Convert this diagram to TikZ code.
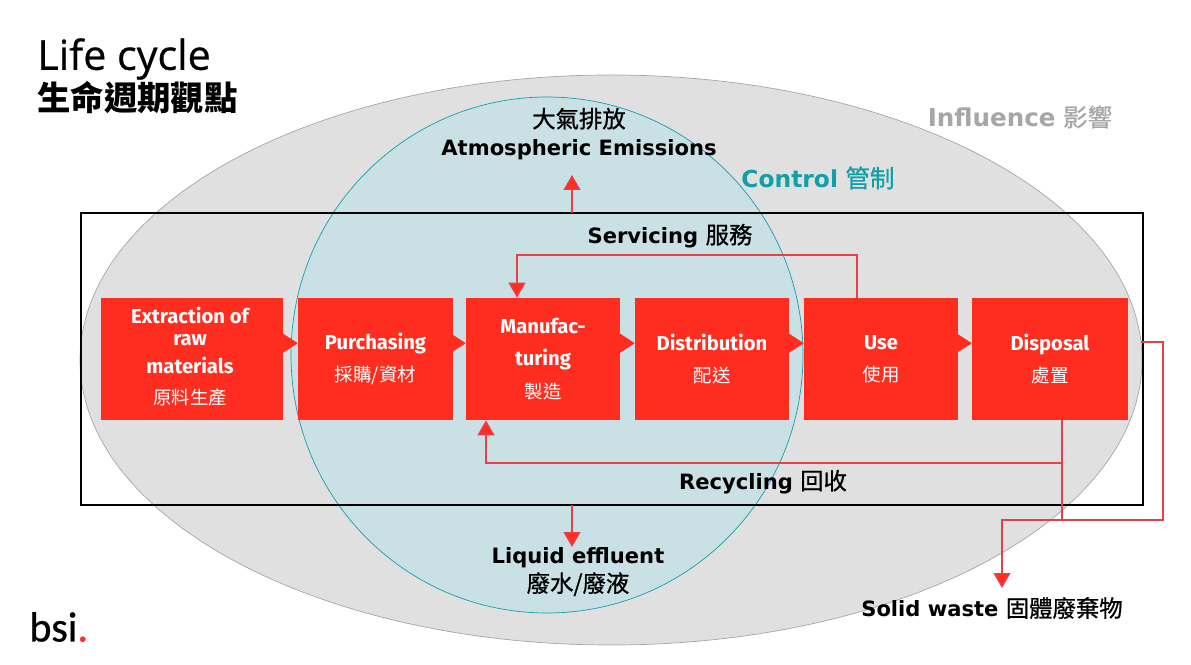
\documentclass[tikz,border=0pt]{standalone}
\usepackage{fontspec}
\setmainfont{DejaVu Sans}
\newfontfamily\boxfont{Fira Sans}
\newfontfamily\titlefont[FakeBold=0.6]{Open Sans}
\newfontfamily\logofont[FakeBold=0.8]{Carlito}
\newfontfamily\cjkfont{Noto Sans CJK TC}
\newfontfamily\cjkmedium[FakeBold=0.8]{Noto Sans CJK TC}
\usetikzlibrary{arrows.meta}
\definecolor{boxred}{HTML}{FF2D20}
\definecolor{linered}{HTML}{E8404A}
\definecolor{influencegray}{HTML}{E0E0E0}
\definecolor{controlblue}{HTML}{C9E0E4}
\definecolor{controlteal}{HTML}{12A0A8}
\newcommand{\boxcjk}[1]{{\cjkfont\mdseries\fontsize{10.5}{12}\selectfont #1}}
\newcommand{\labelcjk}[1]{{\cjkmedium\mdseries\fontsize{13.3}{18}\selectfont #1}}
\tikzset{
    boxtext/.style={inner sep=0pt, align=center, text=white, font=\boxfont\bfseries\fontsize{11.5}{14}\selectfont},
    redbox/.style={boxtext, fill=boxred, minimum height=2.44cm},
    redline/.style={draw=linered, line width=0.8pt},
    redarrow/.style={redline, -{Triangle[length=8.5pt,width=9.6pt,fill=boxred]}},
    chevron/.style={draw=boxred, line width=0.2pt, -{Triangle[length=8.5pt,width=11pt,fill=boxred]}},
    label/.style={font=\bfseries\fontsize{12}{16}\selectfont, align=center, inner sep=0pt}
}
\begin{document}
\begin{tikzpicture}[x=0.02cm, y=-0.02cm]
        \useasboundingbox (0,0) rectangle (1191,665);
        % the two zones
        \draw[fill=influencegray, draw=gray!70] (611,360) ellipse [x radius=531, y radius=285];
        \draw[fill=controlblue, draw=controlteal] (547,355) ellipse [x radius=256, y radius=258];
        \draw[black, line width=0.8pt] (81,213) rectangle (1143,505);
        % title and logo
        \node[anchor=west, inner sep=0pt, font=\titlefont\fontsize{23.5}{28}\selectfont] (title) at (37,59) {Life cycle};
        \node[anchor=west, inner sep=0pt, font=\cjkfont\bfseries\fontsize{19}{24}\selectfont] (titlecjk) at (37,98) {生命週期觀點};
        \node[anchor=west, inner sep=0pt, font=\logofont\fontsize{24}{30}\selectfont] (logo) at (29,627) {bsi\textcolor{boxred}{.}};
        % life cycle stages
        \node[redbox, minimum width=3.64cm] (extract) at (192,359) {};
        \node[boxtext] (extracttext) at (190,357) {Extraction of\\[-1.5pt]raw\\[1.5pt]materials\\[4pt]\boxcjk{原料生產}};
        \node[redbox, minimum width=3.1cm] (purchase) at (375.5,359) {Purchasing\\[4pt]\boxcjk{採購/資材}};
        \node[redbox, minimum width=3.08cm] (manu) at (543,359) {Manufac-\\[4pt]turing\\[5pt]\boxcjk{製造}};
        \node[redbox, minimum width=3.08cm] (distrib) at (712,359) {Distribution\\[4pt]\boxcjk{配送}};
        \node[redbox, minimum width=3.08cm] (use) at (881,359) {Use\\[4pt]\boxcjk{使用}};
        \node[redbox, minimum width=3.12cm] (disposal) at (1050,359) {Disposal\\[4pt]\boxcjk{處置}};
        \foreach \from/\to in {extract/purchase, purchase/manu, manu/distrib, distrib/use, use/disposal}
            \draw[chevron] ([yshift=9pt]\from.east) -- ([yshift=9pt]\to.west);
        % labels
        \node[label] (air) at (579,134) {\labelcjk{大氣排放}\\Atmospheric Emissions};
        \node[label, text=gray!70] (influence) at (1020,117) {{\fontsize{14}{18}\selectfont Influence} {\cjkmedium\mdseries\fontsize{14}{18}\selectfont 影響}};
        \node[label, text=controlteal] (control) at (818,178) {{\fontsize{13.3}{18}\selectfont Control} {\cjkmedium\mdseries\fontsize{14}{18}\selectfont 管制}};
        \node[label] (servicing) at (670,236) {Servicing \labelcjk{服務}};
        \node[label] (recycling) at (763,482) {Recycling \labelcjk{回收}};
        \node[label] (liquid) at (578,572) {Liquid effluent\\\labelcjk{廢水/廢液}};
        \node[label] (solid) at (992,608) {Solid waste \labelcjk{固體廢棄物}};
        % flows
        \coordinate (airfoot) at (572,213);
        \coordinate (airtip) at (572,175);
        \coordinate (liquidfoot) at (572,505);
        \coordinate (liquidtip) at (572,547);
        \coordinate (svccorner) at (517,255);
        \coordinate (recycorner) at (486,463);
        \coordinate (wastecorner) at (1002,520);
        \coordinate (wastetip) at (1002,588);
        \coordinate (dispright) at (1141,342);
        \coordinate (rightcorner) at (1163,342);
        \draw[redarrow] (airfoot) -- (airtip);
        \draw[redarrow] (liquidfoot) -- (liquidtip);
        \draw[redarrow] ([xshift=-0.48cm]use.north) |- (svccorner) -- (svccorner |- manu.north);
        \draw[redarrow] ([xshift=0.24cm]disposal.south) |- (recycorner) -- (recycorner |- manu.south);
        \draw[redarrow] ([xshift=0.24cm]disposal.south) |- (wastecorner) -- (wastetip);
        \draw[redline] (dispright) -- (rightcorner) |- (wastecorner);
    \end{tikzpicture}
\end{document}
